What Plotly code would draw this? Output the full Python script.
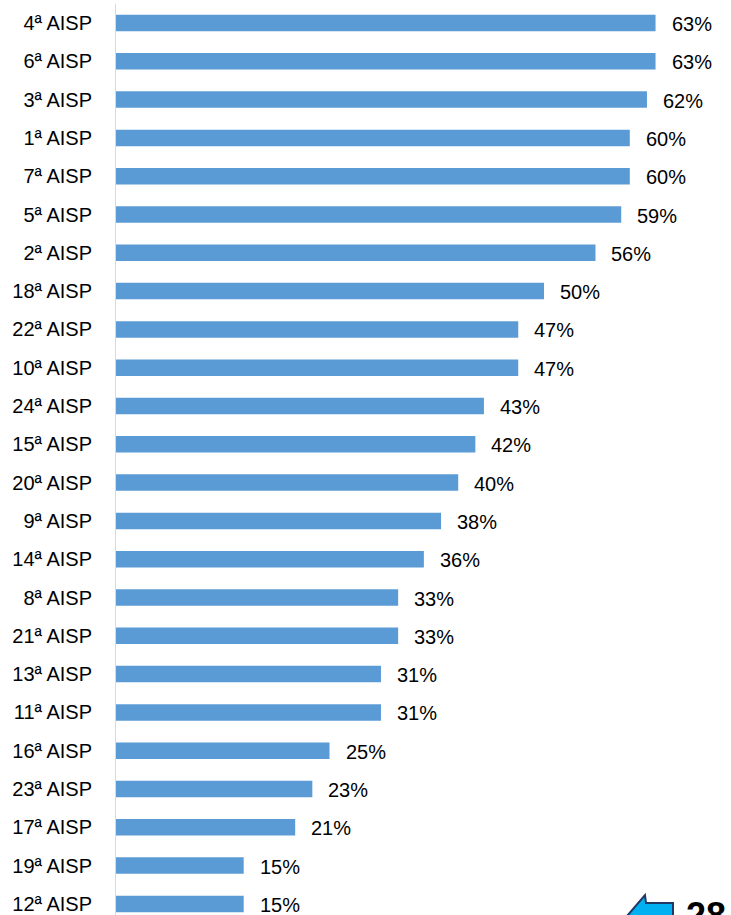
import plotly.graph_objects as go

# Percentual por AISP (ordem decrescente, de cima para baixo)
categorias = ["4ª AISP", "6ª AISP", "3ª AISP", "1ª AISP", "7ª AISP", "5ª AISP",
              "2ª AISP", "18ª AISP", "22ª AISP", "10ª AISP", "24ª AISP", "15ª AISP",
              "20ª AISP", "9ª AISP", "14ª AISP", "8ª AISP", "21ª AISP", "13ª AISP",
              "11ª AISP", "16ª AISP", "23ª AISP", "17ª AISP", "19ª AISP", "12ª AISP"]
valores = [63, 63, 62, 60, 60, 59, 56, 50, 47, 47, 43, 42,
           40, 38, 36, 33, 33, 31, 31, 25, 23, 21, 15, 15]
rotulos = [f"{v}%" for v in valores]
pagina = "28"

W, H = 731, 915
ML = 115
FONT = "Liberation Sans, Arial, sans-serif"
BAR_COLOR = "#5B9BD5"

pos = list(range(len(categorias)))

fig = go.Figure()
fig.add_trace(go.Bar(
    x=valores, y=pos, orientation="h",
    marker=dict(color=BAR_COLOR, line=dict(width=0)),
    width=0.43, hoverinfo="skip",
))

# value labels to the right of each bar
for p, v, t in zip(pos, valores, rotulos):
    fig.add_annotation(x=v, y=p, text=t, showarrow=False, xanchor="left",
                       yanchor="middle", xshift=14, yshift=-1,
                       font=dict(family=FONT, size=20, color="#000000"))

# vertical category axis line
fig.add_shape(type="line", xref="x", yref="y", x0=0, x1=0, y0=-0.5, y1=len(categorias) - 0.5,
              line=dict(color="#D9D9D9", width=2))


def px2paper(px, py):
    return (px - ML) / (W - ML), 1 - py / H


# navigation arrow in the lower-right corner
arrow_pts = [(627, 916), (645, 895), (646, 903), (673, 903), (673, 916)]
pts = [px2paper(a, b) for a, b in arrow_pts]
path = "M " + " L ".join(f"{a},{b}" for a, b in pts) + " Z"
fig.add_shape(type="path", xref="paper", yref="paper", path=path,
              fillcolor="#00B0F0", line=dict(color="#1F3864", width=2), layer="above")

px_, py_ = px2paper(684, 893)
fig.add_annotation(x=px_, y=py_, xref="paper", yref="paper", text=f"<b>{pagina}</b>",
                   showarrow=False, xanchor="left", yanchor="top",
                   font=dict(family=FONT, size=36, color="#000000"))

px_per_unit = 8.58
row = 38.3
y_top = -23 / row

fig.update_layout(
    width=W, height=H,
    margin=dict(l=ML, r=0, t=0, b=0),
    paper_bgcolor="white", plot_bgcolor="white",
    showlegend=False,
    xaxis=dict(range=[0, (W - ML) / px_per_unit], visible=False, fixedrange=True),
    yaxis=dict(
        range=[y_top + H / row, y_top],
        tickmode="array", tickvals=pos, ticktext=categorias,
        showgrid=False, zeroline=False, showline=False, ticks="",
        ticklabelstandoff=22,
        tickfont=dict(family=FONT, size=20, color="#000000"),
        fixedrange=True,
    ),
)

fig.write_html("out.html")
